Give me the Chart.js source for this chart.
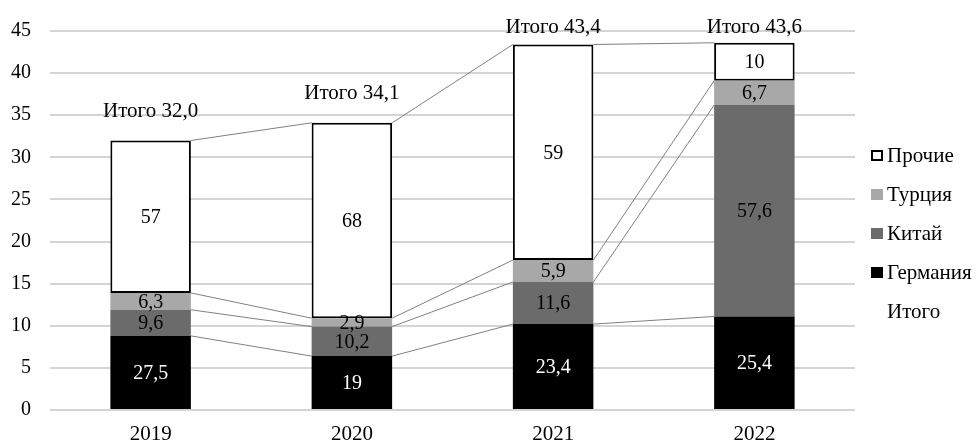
<!DOCTYPE html>
<html>
<head>
<meta charset="utf-8">
<script src="https://cdn.jsdelivr.net/npm/chart.js@4.4.1/dist/chart.umd.min.js"></script>
<style>
  html, body { margin: 0; padding: 0; background: #fff; }
  #wrap { width: 976px; height: 444px; position: relative; }
  #probe { font-family: 'Liberation Serif'; position: absolute; left: -999px; top: 0; }
</style>
</head>
<body>
<div id="wrap"><canvas id="chart"></canvas></div>
<span id="probe">Итого 0123</span>
<script>
// годы
const years = ['2019', '2020', '2021', '2022'];

// объёмы по странам (высота сегментов)
const germany = [8.8, 6.4, 10.2, 11.1];
const china = [3.1, 3.5, 5.0, 25.1];
const turkey = [2.0, 1.0, 2.6, 2.9];
const others = [18.1, 23.2, 25.6, 4.5];
const totals = [32.0, 34.1, 43.4, 43.6];

// доли, %, подписи внутри сегментов
const germanyPct = [27.5, 19, 23.4, 25.4];
const chinaPct = [9.6, 10.2, 11.6, 57.6];
const turkeyPct = [6.3, 2.9, 5.9, 6.7];
const othersPct = [57, 68, 59, 10];

const yTicks = [0, 5, 10, 15, 20, 25, 30, 35, 40, 45];

const FONT = '"Liberation Serif", serif';

function fmt(v) {
    return String(v).replace('.', ',');
}

// линии между столбцами, подписи и легенда
const extrasPlugin = {
    id: 'extras',
    afterDatasetsDraw(chart) {
        const ctx = chart.ctx;
        const area = chart.chartArea;

        // соединительные линии по верхам сегментов
        ctx.save();
        ctx.strokeStyle = '#808080';
        ctx.lineWidth = 1;
        for (let d = 0; d < 4; d++) {
            const bars = chart.getDatasetMeta(d).data;
            for (let i = 0; i < bars.length - 1; i++) {
                const a = bars[i], b = bars[i + 1];
                ctx.beginPath();
                ctx.moveTo(a.x + a.width / 2, a.y);
                ctx.lineTo(b.x - b.width / 2, b.y);
                ctx.stroke();
            }
        }
        ctx.restore();

        // подписи долей
        ctx.save();
        ctx.font = '20px ' + FONT;
        ctx.textAlign = 'center';
        ctx.textBaseline = 'middle';
        chart.data.datasets.forEach((ds, d) => {
            if (!ds.pct) return;
            chart.getDatasetMeta(d).data.forEach((bar, i) => {
                ctx.fillStyle = ds.labelColor;
                ctx.fillText(fmt(ds.pct[i]), bar.x, (bar.y + bar.base) / 2 + 1);
            });
        });

        // Итого над столбцами
        ctx.font = '21px ' + FONT;
        ctx.fillStyle = '#000';
        const tot = chart.getDatasetMeta(4).data;
        tot.forEach((pt, i) => {
            const y = Math.max(pt.y - 29, area.top - 4);
            ctx.fillText('Итого ' + totals[i].toFixed(1).replace('.', ','), pt.x, y);
        });
        ctx.restore();

        // легенда
        ctx.save();
        ctx.font = '21px ' + FONT;
        ctx.textBaseline = 'middle';
        ctx.textAlign = 'left';
        const order = [3, 2, 1, 0, 4];
        const lx = area.right + 16;
        order.forEach((d, k) => {
            const ds = chart.data.datasets[d];
            const y = area.top + 124 + k * 39;
            if (d < 4) {
                ctx.fillStyle = ds.backgroundColor;
                ctx.fillRect(lx, y - 5, 12, 11);
                if (ds.borderWidth) {
                    ctx.strokeStyle = '#000';
                    ctx.lineWidth = 2;
                    ctx.strokeRect(lx + 1, y - 4, 10, 9);
                }
            }
            ctx.fillStyle = '#000';
            ctx.fillText(ds.label, lx + 16, y + 1);
        });
        ctx.restore();
    }
};

function draw() {
    new Chart(document.getElementById('chart'), {
        type: 'bar',
        data: {
            labels: years,
            datasets: [
                { label: 'Германия', data: germany, pct: germanyPct, labelColor: '#fff', backgroundColor: '#000000', borderWidth: 0 },
                { label: 'Китай', data: china, pct: chinaPct, labelColor: '#000', backgroundColor: '#6b6b6b', borderWidth: 0 },
                { label: 'Турция', data: turkey, pct: turkeyPct, labelColor: '#000', backgroundColor: '#a8a8a8', borderWidth: 0 },
                { label: 'Прочие', data: others, pct: othersPct, labelColor: '#000', backgroundColor: '#ffffff', borderColor: '#000', borderWidth: 2, borderSkipped: false },
                { type: 'line', label: 'Итого', data: totals, stack: 'total', showLine: false, pointRadius: 0, borderWidth: 0 }
            ]
        },
        options: {
            responsive: true,
            maintainAspectRatio: false,
            animation: false,
            layout: { padding: { top: 28, right: 121, left: 0, bottom: 0 } },
            datasets: { bar: { barPercentage: 0.4, categoryPercentage: 1 } },
            plugins: {
                legend: { display: false },
                tooltip: { enabled: false }
            },
            scales: {
                x: {
                    stacked: true,
                    grid: { display: false, drawTicks: false },
                    border: { display: false },
                    ticks: { color: '#000', font: { family: FONT, size: 21 }, padding: 12 },
                    afterFit: axis => { axis.height = 34; }
                },
                y: {
                    stacked: true,
                    min: 0,
                    max: 45,
                    afterBuildTicks: axis => { axis.ticks = yTicks.map(v => ({ value: v })); },
                    grid: { color: '#d4d4d4', lineWidth: 2, drawTicks: false },
                    border: { display: false },
                    ticks: { color: '#000', font: { family: FONT, size: 20 }, padding: 19 },
                    afterFit: axis => { axis.width = 50; }
                }
            }
        },
        plugins: [extrasPlugin]
    });
}

document.fonts.load('20px "Liberation Serif"', 'Итого').then(draw, draw);
</script>
</body>
</html>
